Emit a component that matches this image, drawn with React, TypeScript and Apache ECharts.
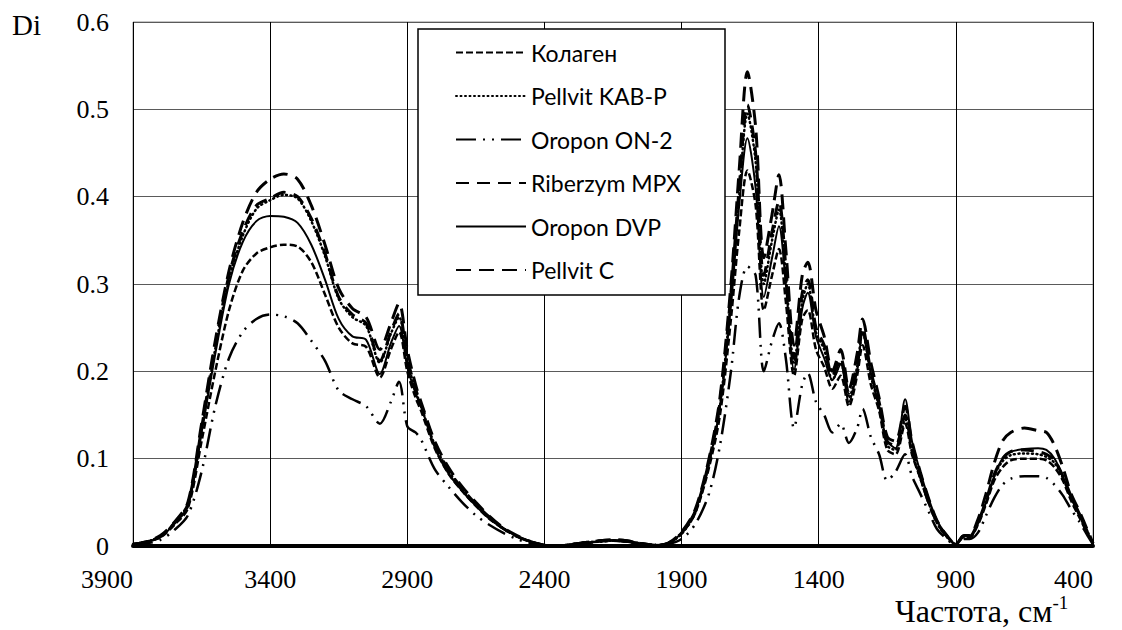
import React, { useEffect, useRef } from "react";
import * as echarts from "echarts";

const wavenumbers = [
  3900, 3850, 3800, 3750, 3700, 3650, 3600, 3550, 3500, 3450,
  3400, 3350, 3300, 3250, 3200, 3150, 3100, 3050, 3000, 2960,
  2930, 2900, 2870, 2850, 2800, 2750, 2700, 2650, 2600, 2550,
  2500, 2450, 2400, 2350, 2300, 2250, 2200, 2150, 2100, 2050,
  2000, 1950, 1900, 1850, 1800, 1760, 1720, 1690, 1660, 1630,
  1600, 1570, 1545, 1520, 1490, 1460, 1440, 1410, 1380, 1350,
  1320, 1290, 1260, 1240, 1210, 1180, 1150, 1120, 1085, 1060,
  1030, 1000, 970, 940, 900, 870, 850, 820, 790, 760,
  730, 700, 650, 600, 570, 540, 510, 480, 450, 420, 400,
];

const kolagen = [
  0.002, 0.005, 0.01, 0.024, 0.043, 0.12, 0.2, 0.27, 0.315, 0.335,
  0.342, 0.345, 0.343, 0.325, 0.288, 0.25, 0.232, 0.228, 0.193, 0.225,
  0.245, 0.2, 0.17, 0.155, 0.112, 0.083, 0.063, 0.046, 0.031, 0.02,
  0.011, 0.005, 0.001, 0.0, 0.002, 0.004, 0.005, 0.006, 0.005, 0.003,
  0.001, 0.003, 0.014, 0.038, 0.09, 0.15, 0.26, 0.36, 0.43, 0.39,
  0.27, 0.31, 0.34, 0.28, 0.195, 0.26, 0.27, 0.225, 0.205, 0.18,
  0.195, 0.16, 0.195, 0.23, 0.185, 0.155, 0.11, 0.105, 0.14, 0.105,
  0.078, 0.05, 0.028, 0.014, 0.002, 0.011, 0.01, 0.024, 0.048, 0.075,
  0.09, 0.098, 0.1, 0.1, 0.098, 0.09, 0.075, 0.052, 0.033, 0.014, 0.003,
];

const pellvitKabP = [
  0.002, 0.005, 0.011, 0.026, 0.047, 0.132, 0.226, 0.305, 0.355, 0.386,
  0.396, 0.402, 0.398, 0.372, 0.332, 0.283, 0.262, 0.252, 0.21, 0.243,
  0.262, 0.212, 0.178, 0.16, 0.116, 0.086, 0.065, 0.047, 0.032, 0.02,
  0.011, 0.005, 0.001, 0.0, 0.002, 0.004, 0.005, 0.006, 0.005, 0.003,
  0.001, 0.003, 0.014, 0.038, 0.094, 0.16, 0.285, 0.4, 0.495, 0.44,
  0.3, 0.35, 0.385, 0.31, 0.21, 0.28, 0.3, 0.245, 0.225, 0.19,
  0.21, 0.17, 0.205, 0.245, 0.195, 0.16, 0.115, 0.11, 0.145, 0.108,
  0.078, 0.05, 0.027, 0.013, 0.002, 0.011, 0.01, 0.026, 0.05, 0.08,
  0.097, 0.104, 0.106, 0.105, 0.102, 0.095, 0.078, 0.055, 0.036, 0.015, 0.003,
];

const oroponOn2 = [
  0.001, 0.003, 0.007, 0.018, 0.035, 0.085, 0.16, 0.215, 0.245, 0.26,
  0.265, 0.263, 0.255, 0.235, 0.212, 0.178, 0.168, 0.16, 0.14, 0.165,
  0.188, 0.137, 0.13, 0.122, 0.088, 0.068, 0.05, 0.035, 0.024, 0.015,
  0.008, 0.003, 0.0, 0.0, 0.002, 0.003, 0.005, 0.006, 0.005, 0.002,
  0.001, 0.002, 0.008, 0.025, 0.06, 0.115, 0.2, 0.285, 0.32, 0.31,
  0.2, 0.235, 0.255, 0.215, 0.135, 0.185, 0.198, 0.165, 0.15, 0.13,
  0.14, 0.118, 0.135, 0.157, 0.125, 0.105, 0.075, 0.085, 0.105, 0.08,
  0.06, 0.04, 0.02, 0.01, 0.001, 0.008, 0.008, 0.015, 0.035, 0.055,
  0.07, 0.077, 0.08, 0.08, 0.078, 0.07, 0.058, 0.042, 0.028, 0.012, 0.002,
];

const riberzymMpx = [
  0.002, 0.005, 0.011, 0.026, 0.048, 0.135, 0.23, 0.31, 0.36, 0.39,
  0.398, 0.405, 0.4, 0.375, 0.335, 0.285, 0.265, 0.255, 0.212, 0.245,
  0.266, 0.215, 0.18, 0.162, 0.118, 0.087, 0.066, 0.048, 0.033, 0.02,
  0.011, 0.005, 0.001, 0.0, 0.002, 0.004, 0.006, 0.007, 0.006, 0.003,
  0.001, 0.003, 0.015, 0.04, 0.097, 0.165, 0.29, 0.41, 0.505, 0.45,
  0.31, 0.36, 0.395, 0.32, 0.215, 0.29, 0.305, 0.25, 0.23, 0.195,
  0.215, 0.175, 0.21, 0.25, 0.2, 0.165, 0.12, 0.115, 0.15, 0.11,
  0.08, 0.05, 0.028, 0.014, 0.002, 0.012, 0.011, 0.027, 0.052, 0.082,
  0.1, 0.108, 0.11, 0.108, 0.105, 0.098, 0.08, 0.057, 0.037, 0.016, 0.003,
];

const oroponDvp = [
  0.002, 0.005, 0.01, 0.025, 0.045, 0.13, 0.22, 0.3, 0.348, 0.372,
  0.378, 0.377, 0.37, 0.345, 0.305, 0.26, 0.24, 0.236, 0.197, 0.232,
  0.252, 0.205, 0.175, 0.16, 0.113, 0.083, 0.063, 0.046, 0.031, 0.02,
  0.011, 0.005, 0.001, 0.0, 0.002, 0.004, 0.005, 0.007, 0.006, 0.003,
  0.001, 0.003, 0.015, 0.04, 0.095, 0.16, 0.275, 0.39, 0.467, 0.41,
  0.285, 0.33, 0.366, 0.3, 0.202, 0.272, 0.29, 0.24, 0.215, 0.19,
  0.208, 0.165, 0.2, 0.243, 0.198, 0.16, 0.12, 0.112, 0.168, 0.12,
  0.085, 0.055, 0.03, 0.015, 0.002, 0.012, 0.01, 0.025, 0.05, 0.08,
  0.1, 0.108, 0.111, 0.112, 0.11, 0.1, 0.08, 0.055, 0.035, 0.015, 0.003,
];

const pellvitC = [
  0.002, 0.005, 0.012, 0.027, 0.05, 0.14, 0.235, 0.315, 0.37, 0.405,
  0.42, 0.426, 0.42, 0.39, 0.345, 0.295, 0.272, 0.262, 0.225, 0.255,
  0.278, 0.225, 0.185, 0.165, 0.12, 0.09, 0.068, 0.05, 0.034, 0.021,
  0.012, 0.005, 0.001, 0.0, 0.002, 0.004, 0.006, 0.007, 0.006, 0.003,
  0.001, 0.003, 0.016, 0.042, 0.1, 0.17, 0.3, 0.43, 0.543, 0.48,
  0.33, 0.38, 0.425, 0.34, 0.23, 0.31, 0.325, 0.27, 0.24, 0.2,
  0.225, 0.18, 0.22, 0.26, 0.21, 0.17, 0.125, 0.12, 0.16, 0.12,
  0.085, 0.055, 0.03, 0.015, 0.002, 0.012, 0.012, 0.03, 0.06, 0.095,
  0.12, 0.13, 0.135, 0.132, 0.13, 0.115, 0.09, 0.06, 0.04, 0.018, 0.003,
];

const seriesNames = ["Колаген", "Pellvit KAB-P", "Oropon ON-2", "Riberzym MPX", "Oropon DVP", "Pellvit C"];
const seriesValues = [kolagen, pellvitKabP, oroponOn2, riberzymMpx, oroponDvp, pellvitC];
const yTicks = [0, 0.1, 0.2, 0.3, 0.4, 0.5, 0.6];

const lineStyles: any[] = [
  { width: 2.5, type: [7, 3] },
  { width: 2.5, type: [1, 3.5], cap: "round" },
  { width: 2.5, type: [20, 7, 2, 7, 2, 7] },
  { width: 3, type: [13, 8] },
  { width: 2, type: "solid" },
  { width: 3, type: [15, 8] },
];

export default function App() {
  const ref = useRef<HTMLDivElement>(null);
  useEffect(() => {
    if (!ref.current) return;
    const chart = echarts.init(ref.current, null, { renderer: "svg" });
    const serif = "Liberation Serif";
    const series = seriesNames.map((name, i) => ({
      name,
      type: "line",
      data: wavenumbers.map((w, j) => [w, seriesValues[i][j]]),
      showSymbol: false,
      symbol: "none",
      smooth: 0.3,
      lineStyle: { color: "#000", ...lineStyles[i] },
      itemStyle: { color: "#000" },
      z: 2,
    }));
    chart.setOption({
      animation: false,
      backgroundColor: "#fff",
      textStyle: { fontFamily: serif },
      grid: {
        left: 133,
        right: 29,
        top: 22,
        bottom: 84,
        show: true,
        borderColor: "#8c8c8c",
        borderWidth: 1,
      },
      xAxis: {
        type: "value",
        min: 400,
        max: 3900,
        interval: 500,
        inverse: true,
        axisLine: { show: true, onZero: false, lineStyle: { color: "#000", width: 4 } },
        axisTick: { show: false },
        splitLine: { show: true, lineStyle: { color: "#000", width: 1 } },
        axisLabel: {
          color: "#000",
          fontFamily: serif,
          fontSize: 26,
          margin: 20,
          alignMinLabel: "right",
          alignMaxLabel: "right",
          formatter: (v: number) => String(v),
        },
      },
      yAxis: {
        type: "value",
        min: yTicks[0],
        max: yTicks[yTicks.length - 1],
        interval: 0.1,
        axisLine: { show: false },
        axisTick: { show: false },
        splitLine: { show: true, lineStyle: { color: "#5a5a5a", width: 1.2 } },
        axisLabel: {
          color: "#000",
          fontFamily: serif,
          fontSize: 26,
          margin: 24,
          formatter: (v: number) => (v === 0 ? "0" : v.toFixed(1)),
        },
      },
      legend: {
        data: seriesNames,
        orient: "vertical",
        left: 418,
        top: 29,
        padding: [12, 20, 15, 37],
        itemWidth: 70,
        itemHeight: 16,
        itemGap: 20.5,
        itemStyle: { opacity: 0 },
        textStyle: { fontFamily: "Lato", fontSize: 23, color: "#000", lineHeight: 18 },
        z: 5,
      },
      graphic: [
        {
          type: "rect",
          shape: { x: 418, y: 29, width: 307, height: 266 },
          style: { fill: "#fff", stroke: "#000", lineWidth: 1.5 },
          z: 4,
        },
        {
          type: "text",
          x: 12,
          y: 25,
          style: { text: "Di", fontFamily: serif, fontSize: 29, fill: "#000", verticalAlign: "middle" },
        },
        {
          type: "text",
          x: 895,
          y: 611,
          style: {
            text: "{a|Частота, см}{b|-1}",
            fill: "#000",
            verticalAlign: "middle",
            rich: {
              a: { fontFamily: serif, fontSize: 32, fill: "#000" },
              b: { fontFamily: serif, fontSize: 19, fill: "#000", padding: [0, 0, 17, 0] },
            },
          },
        },
      ],
      series,
    });
    return () => chart.dispose();
  }, []);
  return <div ref={ref} style={{ width: 1122, height: 630, position: "absolute", left: 0, top: 0 }} />;
}
